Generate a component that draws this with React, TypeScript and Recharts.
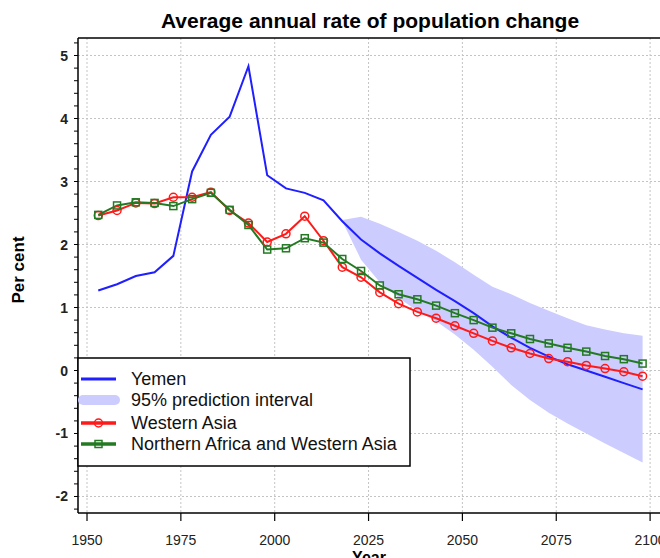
import { ComposedChart, Line, Area, XAxis, YAxis, CartesianGrid, ReferenceLine } from 'recharts';

// 5-year period midpoints
const years = [
  1953, 1958, 1963, 1968, 1973, 1978, 1983, 1988, 1993, 1998,
  2003, 2008, 2013, 2018, 2023, 2028, 2033, 2038, 2043, 2048,
  2053, 2058, 2063, 2068, 2073, 2078, 2083, 2088, 2093, 2098,
];

const yemen = [
  1.27, 1.37, 1.5, 1.56, 1.82, 3.16, 3.74, 4.03, 4.83, 3.1,
  2.89, 2.82, 2.7, 2.37, 2.08, 1.86, 1.66, 1.47, 1.28, 1.1,
  0.91, 0.7, 0.52, 0.36, 0.22, 0.1, 0.0, -0.1, -0.2, -0.3,
];

const westernAsia = [
  2.46, 2.54, 2.66, 2.65, 2.75, 2.75, 2.83, 2.54, 2.34, 2.04,
  2.17, 2.45, 2.06, 1.64, 1.48, 1.24, 1.06, 0.93, 0.83, 0.71,
  0.59, 0.47, 0.36, 0.27, 0.19, 0.14, 0.08, 0.03, -0.02, -0.09,
];

const northAfricaWesternAsia = [
  2.47, 2.62, 2.67, 2.66, 2.61, 2.72, 2.82, 2.55, 2.31, 1.92,
  1.94, 2.1, 2.03, 1.77, 1.58, 1.35, 1.21, 1.13, 1.03, 0.91,
  0.8, 0.68, 0.59, 0.5, 0.43, 0.36, 0.3, 0.23, 0.18, 0.11,
];

// 95% prediction interval for Yemen
const intervalYears = [2018, 2023, 2028, 2033, 2038, 2043, 2048, 2053, 2058, 2063, 2068, 2073, 2078, 2083, 2088, 2093, 2098];
const intervalLow = [2.37, 1.76, 1.4, 1.15, 0.95, 0.78, 0.57, 0.33, 0.06, -0.23, -0.47, -0.67, -0.84, -1.0, -1.16, -1.31, -1.46];
const intervalHigh = [2.39, 2.44, 2.33, 2.2, 2.06, 1.9, 1.72, 1.52, 1.33, 1.21, 1.07, 0.95, 0.83, 0.72, 0.65, 0.59, 0.55];

const xTicks = [1950, 1975, 2000, 2025, 2050, 2075, 2100];
const yLabels = [-2, -1, 0, 1, 2, 3, 4, 5];
const yMinorTicks = Array.from({ length: 38 }, (_, i) => Math.round((-2.2 + i * 0.2) * 10) / 10);

const X_DOMAIN: [number, number] = [1947.6, 2105.3];
const Y_DOMAIN: [number, number] = [-2.262, 5.278];

const FONT = 'Arial, "Liberation Sans", Helvetica, sans-serif';
const BLUE = '#1f1fff';
const BAND = '#ccccff';
const RED = '#ff1a1a';
const GREEN = '#237a23';

const data = years.map((year, i) => {
  const j = intervalYears.indexOf(year);
  return {
    year,
    yemen: yemen[i],
    westernAsia: westernAsia[i],
    nafwa: northAfricaWesternAsia[i],
    interval: j >= 0 ? [intervalLow[j], intervalHigh[j]] : null,
  };
});

function YTick({ x, y, payload }: any) {
  const v = payload.value;
  if (Math.abs(v - Math.round(v)) > 1e-6) return <g />;
  return (
    <text x={x - 6} y={y + 5} textAnchor="end" fontFamily={FONT} fontSize={14} fontWeight="bold" fill="#222">
      {Math.round(v)}
    </text>
  );
}

function XTick({ x, y, payload }: any) {
  return (
    <text x={x} y={y + 24} textAnchor="middle" fontFamily={FONT} fontSize={14} fill="#222">
      {payload.value}
    </text>
  );
}

function SquareDot({ cx, cy, index }: any) {
  return <rect key={index} x={cx - 3.5} y={cy - 3.5} width={7} height={7} fill="none" stroke={GREEN} strokeWidth={1.5} />;
}

function LegendBox() {
  const rows = [
    { label: 'Yemen', y: 21 },
    { label: '95% prediction interval', y: 42 },
    { label: 'Western Asia', y: 65 },
    { label: 'Northern Africa and Western Asia', y: 86 },
  ];
  return (
    <svg width={334} height={110} style={{ position: 'absolute', left: 77, top: 357 }}>
      <rect x={1} y={1} width={332} height={108} fill="#fff" stroke="#000" strokeWidth={1.5} />
      <line x1={4} x2={39} y1={rows[0].y + 1} y2={rows[0].y + 1} stroke={BLUE} strokeWidth={3} />
      <rect x={1} y={rows[1].y - 4} width={42} height={10} rx={5} fill={BAND} />
      <line x1={4} x2={39} y1={rows[2].y + 1} y2={rows[2].y + 1} stroke={RED} strokeWidth={3.5} />
      <circle cx={21.5} cy={rows[2].y + 1} r={4} fill="none" stroke={RED} strokeWidth={1.5} />
      <line x1={4} x2={39} y1={rows[3].y + 1} y2={rows[3].y + 1} stroke={GREEN} strokeWidth={3.5} />
      <rect x={18} y={rows[3].y - 2.5} width={7} height={7} fill="none" stroke={GREEN} strokeWidth={1.5} />
      {rows.map((r) => (
        <text key={r.label} x={54} y={r.y + 7} fontFamily={FONT} fontSize={18} fill="#111">
          {r.label}
        </text>
      ))}
    </svg>
  );
}

export default function App() {
  return (
    <div style={{ position: 'relative', width: 660, height: 558, overflow: 'hidden', background: '#fff' }}>
      <style>{'body{margin:0}'}</style>
      <ComposedChart width={690} height={558} data={data} margin={{ top: 38, right: 20, bottom: 15, left: 38 }}>
        <CartesianGrid
          stroke="#c4c4c4"
          strokeDasharray="2 2"
          horizontalValues={yLabels}
          verticalValues={xTicks}
        />
        <XAxis
          dataKey="year"
          type="number"
          domain={X_DOMAIN}
          ticks={xTicks}
          allowDataOverflow
          height={30}
          tickSize={8}
          tickMargin={0}
          tick={<XTick />}
          axisLine={{ stroke: '#000', strokeWidth: 1.5 }}
          tickLine={{ stroke: '#000', strokeWidth: 1.2 }}
        />
        <YAxis
          type="number"
          domain={Y_DOMAIN}
          ticks={yMinorTicks}
          allowDataOverflow
          width={40}
          tickSize={4}
          tickMargin={0}
          interval={0}
          tick={<YTick />}
          axisLine={{ stroke: '#000', strokeWidth: 1.5 }}
          tickLine={{ stroke: '#000', strokeWidth: 1 }}
        />
        <ReferenceLine y={Y_DOMAIN[1]} stroke="#000" strokeWidth={1.5} ifOverflow="extendDomain" />
        <Area
          dataKey="interval"
          type="linear"
          fill={BAND}
          fillOpacity={1}
          stroke="none"
          isAnimationActive={false}
        />
        <Line dataKey="yemen" type="linear" stroke={BLUE} strokeWidth={2} dot={false} isAnimationActive={false} />
        <Line
          dataKey="westernAsia"
          type="linear"
          stroke={RED}
          strokeWidth={2}
          dot={{ r: 4, fill: 'none', stroke: RED, strokeWidth: 1.5 }}
          isAnimationActive={false}
        />
        <Line
          dataKey="nafwa"
          type="linear"
          stroke={GREEN}
          strokeWidth={2}
          dot={<SquareDot />}
          isAnimationActive={false}
        />
      </ComposedChart>
      <svg width={660} height={558} style={{ position: 'absolute', left: 0, top: 0, pointerEvents: 'none' }}>
        <text x={370} y={28} textAnchor="middle" fontFamily={FONT} fontSize={21} fontWeight="bold" fill="#000">
          Average annual rate of population change
        </text>
        <text
          x={0}
          y={0}
          transform="translate(24 270) rotate(-90)"
          textAnchor="middle"
          fontFamily={FONT}
          fontSize={17}
          fontWeight="bold"
          fill="#000"
        >
          Per cent
        </text>
        <text x={369} y={563} textAnchor="middle" fontFamily={FONT} fontSize={16} fontWeight="bold" fill="#000">
          Year
        </text>
      </svg>
      <LegendBox />
    </div>
  );
}
